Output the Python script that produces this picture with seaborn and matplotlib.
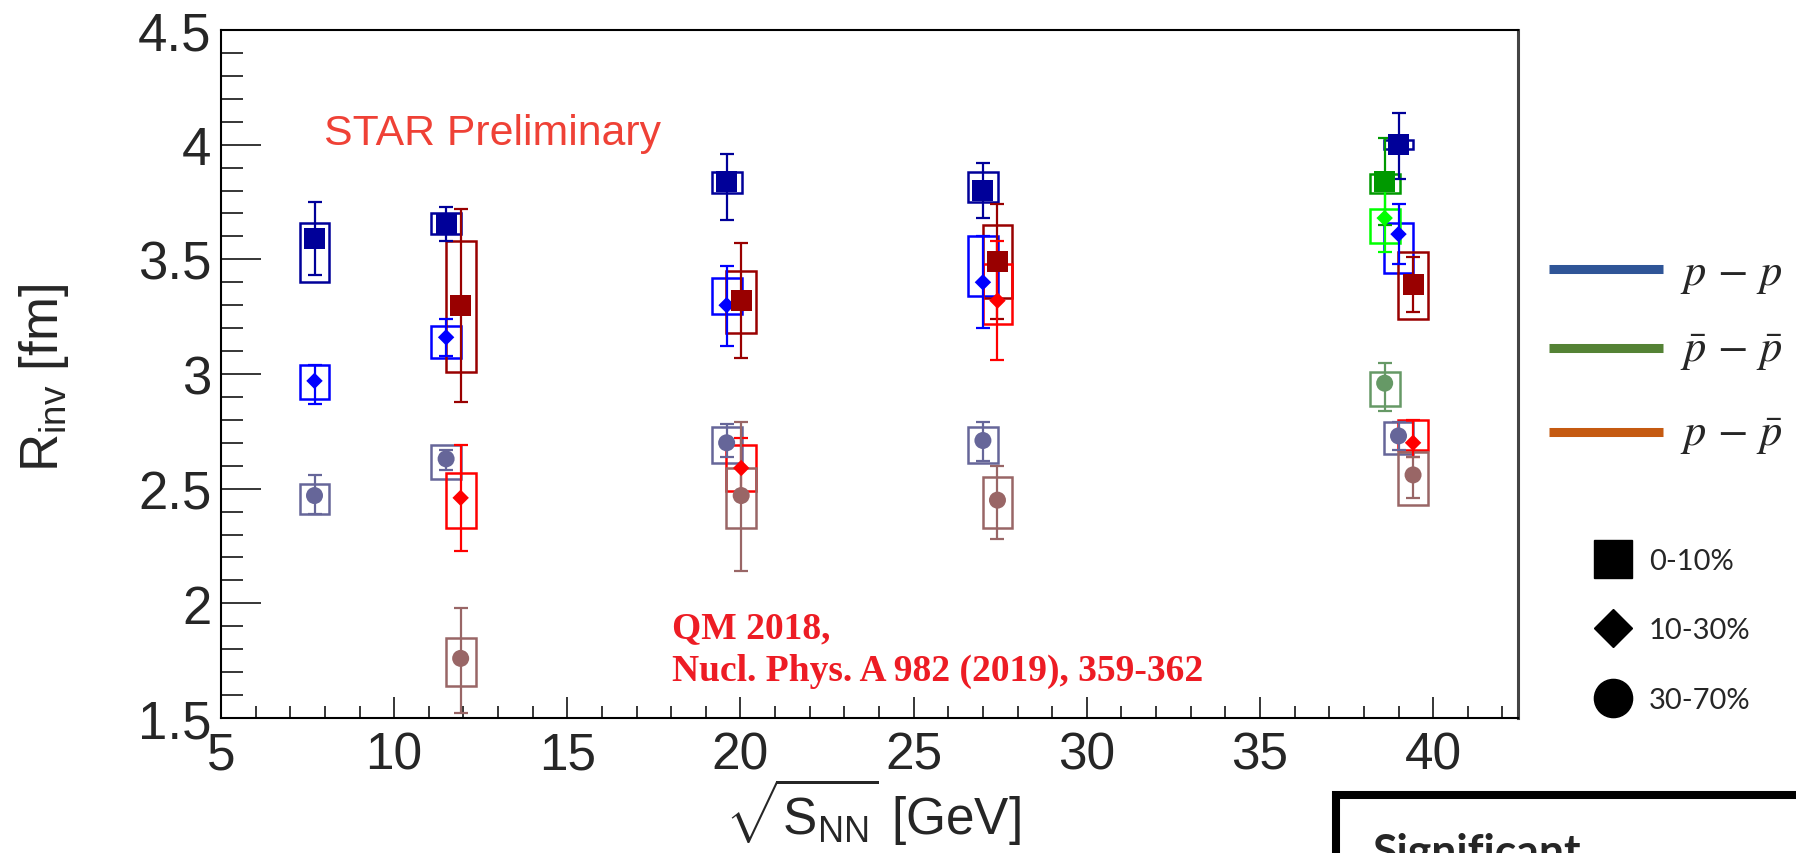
import numpy as np
import pandas as pd
import matplotlib
matplotlib.use('Agg')
import matplotlib.pyplot as plt
from matplotlib.patches import Rectangle
from matplotlib.lines import Line2D
from matplotlib.ticker import MultipleLocator
from matplotlib import font_manager
import seaborn as sns


# R_inv [fm] vs sqrt(s_NN) [GeV]
pair = ['pp'] * 15 + ['ppbar'] * 12 + ['pbarpbar'] * 3
centrality = (['0-10%'] * 5 + ['10-30%'] * 5 + ['30-70%'] * 5
              + ['0-10%'] * 4 + ['10-30%'] * 4 + ['30-70%'] * 4
              + ['0-10%', '10-30%', '30-70%'])
energy = ([7.7, 11.5, 19.6, 27.0, 39.0] * 3
          + [11.5, 19.6, 27.0, 39.0] * 3
          + [39.0] * 3)
R_inv = [3.59, 3.65, 3.84, 3.80, 4.00,
         2.97, 3.16, 3.30, 3.40, 3.61,
         2.47, 2.63, 2.70, 2.71, 2.73,
         3.30, 3.32, 3.49, 3.39,
         2.46, 2.59, 3.32, 2.70,
         1.76, 2.47, 2.45, 2.56,
         3.84, 3.68, 2.96]
stat_low = [3.43, 3.58, 3.67, 3.68, 3.85,
            2.87, 3.08, 3.12, 3.20, 3.48,
            2.39, 2.58, 2.64, 2.62, 2.67,
            2.88, 3.07, 3.24, 3.27,
            2.23, 2.46, 3.06, 2.64,
            1.52, 2.14, 2.28, 2.46,
            3.65, 3.53, 2.84]
stat_high = [3.75, 3.73, 3.96, 3.92, 4.14,
             3.04, 3.24, 3.47, 3.60, 3.74,
             2.56, 2.67, 2.78, 2.79, 2.79,
             3.72, 3.57, 3.74, 3.51,
             2.69, 2.72, 3.58, 2.80,
             1.98, 2.79, 2.60, 2.64,
             4.03, 3.83, 3.05]
sys_low = [3.40, 3.61, 3.79, 3.75, 3.98,
           2.89, 3.07, 3.26, 3.34, 3.44,
           2.39, 2.54, 2.61, 2.61, 2.65,
           3.01, 3.18, 3.33, 3.24,
           2.33, 2.49, 3.22, 2.67,
           1.64, 2.33, 2.33, 2.43,
           3.79, 3.57, 2.86]
sys_high = [3.66, 3.70, 3.88, 3.88, 4.02,
            3.04, 3.21, 3.42, 3.60, 3.66,
            2.52, 2.69, 2.77, 2.77, 2.79,
            3.58, 3.45, 3.65, 3.53,
            2.57, 2.69, 3.48, 2.80,
            1.85, 2.59, 2.55, 2.66,
            3.87, 3.72, 3.01]

colors = {
    ('pp', '0-10%'): '#000099', ('pp', '10-30%'): '#0000ff', ('pp', '30-70%'): '#666699',
    ('ppbar', '0-10%'): '#990000', ('ppbar', '10-30%'): '#ff0000', ('ppbar', '30-70%'): '#996666',
    ('pbarpbar', '0-10%'): '#009900', ('pbarpbar', '10-30%'): '#00ff00', ('pbarpbar', '30-70%'): '#669966',
}
x_shift = {'pp': 0.0, 'ppbar': 0.42, 'pbarpbar': -0.4}

df = pd.DataFrame({'pair': pair, 'centrality': centrality, 'energy': energy,
                   'R': R_inv, 'stat_lo': stat_low, 'stat_hi': stat_high,
                   'sys_lo': sys_low, 'sys_hi': sys_high})
df['x'] = df['energy'] + df['pair'].map(x_shift)
df['series'] = df['pair'] + ' ' + df['centrality']
palette = {p + ' ' + c: col for (p, c), col in colors.items()}

sns.set_theme(style='white')
names = {f.name for f in font_manager.fontManager.ttflist}
narrow = 'Liberation Sans Narrow' if 'Liberation Sans Narrow' in names else 'Liberation Sans'
plt.rcParams['font.family'] = ['Liberation Sans', 'DejaVu Sans']
plt.rcParams['mathtext.fontset'] = 'custom'
plt.rcParams['mathtext.rm'] = 'Liberation Sans'
plt.rcParams['mathtext.it'] = 'Liberation Sans:italic'

W, H = 1796, 854
fx = lambda x: x / W
fy = lambda y: 1 - y / H

fig = plt.figure(figsize=(W / 100, H / 100), dpi=100)
ax = fig.add_axes([fx(221), fy(719), (1518 - 221) / W, (719 - 31) / H])

# systematic boxes + statistical bars
for _, r in df.iterrows():
    col = colors[(r['pair'], r['centrality'])]
    ax.add_patch(Rectangle((r['x'] - 0.43, r['sys_lo']), 0.86, r['sys_hi'] - r['sys_lo'],
                           fill=False, edgecolor=col, lw=1.8, zorder=2))
    ax.errorbar([r['x']], [r['R']], yerr=[[r['R'] - r['stat_lo']], [r['stat_hi'] - r['R']]],
                fmt='none', ecolor=col, elinewidth=1.6, capsize=5, capthick=1.6, zorder=3)

sns.scatterplot(data=df, x='x', y='R', hue='series', palette=palette,
                style='centrality', markers={'0-10%': 's', '10-30%': 'D', '30-70%': 'o'},
                size='centrality', sizes={'0-10%': 230, '10-30%': 70, '30-70%': 150},
                linewidth=0, legend=False, ax=ax, zorder=5)

ax.set_xlim(5, 42.45)
ax.set_ylim(1.5, 4.5)
ax.xaxis.set_major_locator(MultipleLocator(5))
ax.xaxis.set_minor_locator(MultipleLocator(1))
ax.yaxis.set_minor_locator(MultipleLocator(0.1))
ax.set_yticks(np.arange(1.5, 4.51, 0.5))
ax.set_yticklabels(['1.5', '2', '2.5', '3', '3.5', '4', '4.5'])
ax.set_xlabel('')
ax.set_ylabel('')
ax.tick_params(which='both', direction='in', bottom=True, left=True, top=False, right=False,
               width=1.1, color='black')
ax.tick_params(axis='y', which='major', length=29, labelsize=38, pad=7)
ax.tick_params(axis='y', which='minor', length=16)
ax.tick_params(axis='x', which='major', length=15, labelsize=37, pad=9)
ax.tick_params(axis='x', which='minor', length=8.5)
for lab in ax.get_xticklabels():
    lab.set_fontfamily(narrow)
for s in ax.spines.values():
    s.set_color('black')
    s.set_linewidth(1.5)
ax.spines['right'].set_color('#444444')
ax.spines['right'].set_linewidth(2.2)

# axis titles
fig.text(fx(44), fy(378), r'R$_{\rm inv}$ [fm]', rotation=90, ha='center', va='center', fontsize=38)
fig.text(fx(873), fy(812), r'$\sqrt{\rm S_{NN}}$ [GeV]', ha='center', va='center', fontsize=37)

# annotations
fig.text(fx(324), fy(134), 'STAR Preliminary', color='#ef4136', fontsize=30.8, va='center')
fig.text(fx(672), fy(629), 'QM 2018,', color='#ed1c24', fontsize=27, fontweight='bold',
         family='Liberation Serif', va='center')
fig.text(fx(672), fy(671), 'Nucl. Phys. A 982 (2019), 359-362', color='#ed1c24', fontsize=27,
         fontweight='bold', family='Liberation Serif', va='center')

# pair legend
pair_legend = [('#2f5597', r'$p\,-\,p$', 270, 275),
               ('#548235', r'$\bar{p}\,-\,\bar{p}$', 349, 353),
               ('#c55a11', r'$p\,-\,\bar{p}$', 433, 437)]
for col, lab, yl, yt in pair_legend:
    fig.add_artist(Line2D([fx(1549), fx(1663)], [fy(yl), fy(yl)], color=col, lw=6.5,
                          solid_capstyle='butt', transform=fig.transFigure))
    fig.text(fx(1680), fy(yt), lab, fontsize=32, math_fontfamily='stix', va='center')

# centrality legend
cent_legend = [('s', 27.5, '0-10%', 560), ('D', 19.5, '10-30%', 629), ('o', 27.5, '30-70%', 699)]
for mk, ms, lab, yc in cent_legend:
    fig.add_artist(Line2D([fx(1613)], [fy(yc)], marker=mk, markersize=ms, color='black',
                          linestyle='none', transform=fig.transFigure))
    fig.text(fx(1649), fy(yc + 2), lab, fontsize=21, family='Lato', va='center')

# cropped text box at lower right
fig.add_artist(Rectangle((fx(1336), -0.2), 0.5, fy(796) + 0.2, transform=fig.transFigure,
                         fill=False, edgecolor='black', lw=5.8, clip_on=False))
fig.text(fx(1373), fy(866), 'Significant', fontsize=32, fontweight='bold', family='Lato',
         va='baseline')

fig.savefig('out.png', dpi=100)
